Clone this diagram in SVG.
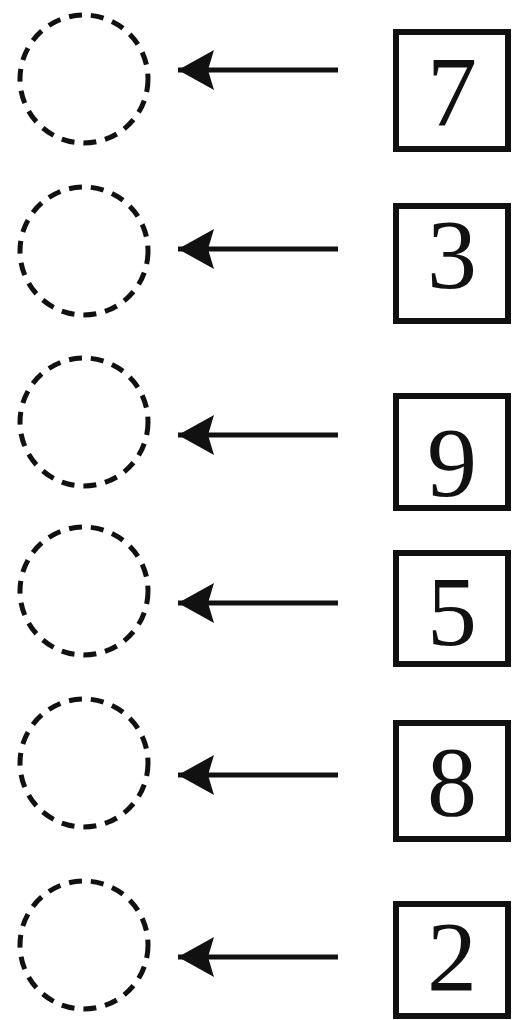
<svg xmlns="http://www.w3.org/2000/svg" width="512" height="1020" viewBox="0 0 512 1020">
<style>
.slot{fill:none;stroke:#111;stroke-width:5;stroke-dasharray:13 9}
.box{fill:#fff;stroke:#111;stroke-width:6}
.num{font-family:"Liberation Serif","Times New Roman",serif;font-size:100px;fill:#111;text-anchor:middle}
.conn{stroke:#111;stroke-width:5;fill:none}
</style>
<defs>
<marker id="ah" markerUnits="userSpaceOnUse" viewBox="0 0 40 44" refX="38" refY="22" markerWidth="40" markerHeight="44" orient="auto">
<path d="M38,22 L2,2 L8,22 L2,42 Z" fill="#111"/>
</marker>
</defs>
<rect width="512" height="1020" fill="#fff"/>
<g id="connectors">
<line class="conn" x1="338" y1="70" x2="178" y2="70" marker-end="url(#ah)"/>
<line class="conn" x1="338" y1="249" x2="178" y2="249" marker-end="url(#ah)"/>
<line class="conn" x1="338" y1="435" x2="178" y2="435" marker-end="url(#ah)"/>
<line class="conn" x1="338" y1="603" x2="178" y2="603" marker-end="url(#ah)"/>
<line class="conn" x1="338" y1="775" x2="178" y2="775" marker-end="url(#ah)"/>
<line class="conn" x1="338" y1="957" x2="178" y2="957" marker-end="url(#ah)"/>
</g>
<g id="slot1"><circle class="slot" cx="84" cy="79" r="64"/></g>
<g id="slot2"><circle class="slot" cx="84" cy="251" r="64"/></g>
<g id="slot3"><circle class="slot" cx="84" cy="422" r="64"/></g>
<g id="slot4"><circle class="slot" cx="84" cy="591" r="64"/></g>
<g id="slot5"><circle class="slot" cx="84" cy="763" r="64"/></g>
<g id="slot6"><circle class="slot" cx="84" cy="945" r="64"/></g>
<g id="card7"><rect class="box" x="396" y="32" width="112" height="117"/><text class="num" x="452" y="125">7</text></g>
<g id="card3"><rect class="box" x="396" y="206" width="112" height="115"/><text class="num" x="452" y="288">3</text></g>
<g id="card9"><rect class="box" x="396" y="396" width="112" height="112"/><text class="num" x="452" y="496">9</text></g>
<g id="card5"><rect class="box" x="396" y="553" width="112" height="111"/><text class="num" x="452" y="645">5</text></g>
<g id="card8"><rect class="box" x="396" y="723" width="112" height="116"/><text class="num" x="452" y="815">8</text></g>
<g id="card2"><rect class="box" x="396" y="904" width="112" height="112"/><text class="num" x="452" y="990">2</text></g>
</svg>
